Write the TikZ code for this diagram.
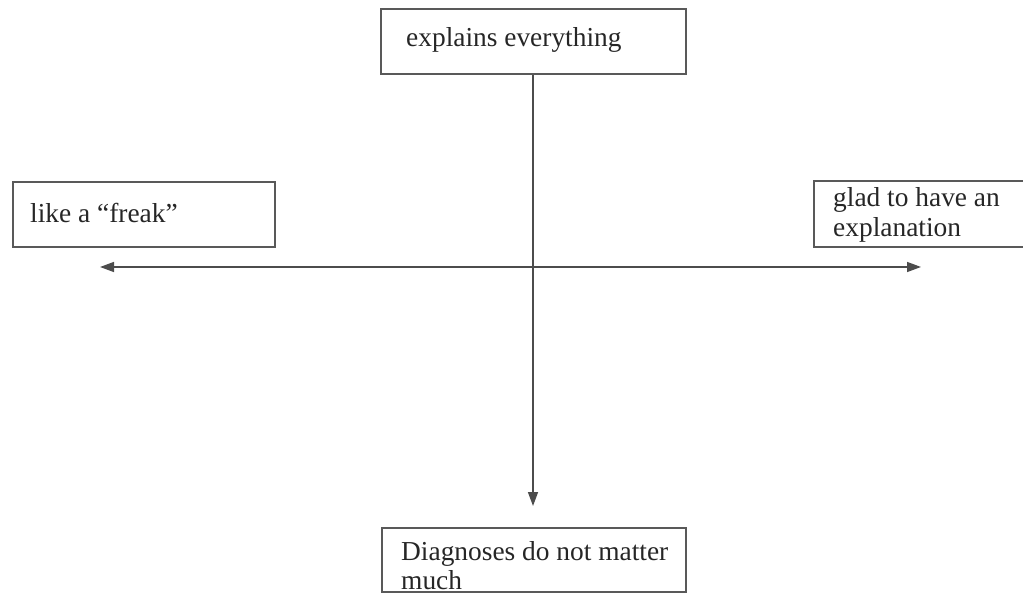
\documentclass[tikz,border=0pt]{standalone}
\usepackage{fontspec}
\setmainfont{Liberation Serif}
\usetikzlibrary{arrows.meta}
\begin{document}
\begin{tikzpicture}[x=1pt,y=-1pt,
  box/.style={draw=black!65,line width=1.8pt,inner sep=0pt,anchor=north west},
  txt/.style={inner sep=0pt,anchor=base west,align=left,text=black!85,font=\fontsize{27.4}{30}\selectfont},
  axis/.style={draw=black!70,line width=1.5pt,-{Triangle[length=14pt,width=10pt]}}]
\useasboundingbox (0,0) rectangle (1023,593);
% boxes
\node[box,minimum width=305pt,minimum height=65pt] (top) at (380,8) {};
\node[box,minimum width=262pt,minimum height=65pt] (left) at (12,181) {};
\node[box,minimum width=215pt,minimum height=66pt] (right) at (813,180) {};
\node[box,minimum width=304pt,minimum height=64pt] (bot) at (381,527) {};
% texts
\node[txt] (ttop) at (406,47) {explains everything};
\node[txt] (tleft) at (30,223) {like a “freak”};
\node[txt] (tright1) at (833,207) {glad to have an};
\node[txt] (tright2) at (833,237) {explanation};
\node[txt] (tbot1) at (401,560) {Diagnoses do not matter};
\node[txt] (tbot2) at (401,589) {much};
% axes
\coordinate (lt) at (100,267);
\coordinate (rt) at (921,267);
\coordinate (bt) at (533,506);
\draw[axis] (top.south -| bt) -- (bt);
\draw[axis,{Triangle[length=14pt,width=10pt]}-{Triangle[length=14pt,width=10pt]}] (lt) -- (rt);
\end{tikzpicture}
\end{document}
